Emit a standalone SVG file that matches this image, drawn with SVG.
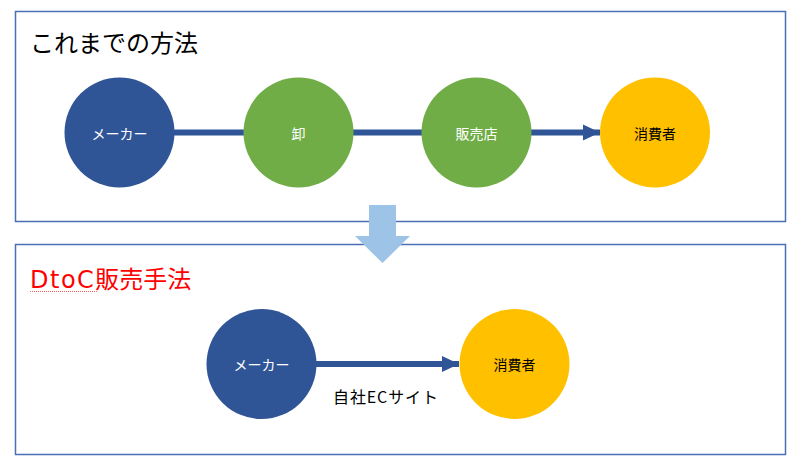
<svg xmlns="http://www.w3.org/2000/svg" width="800" height="468" viewBox="0 0 800 468">
<defs>
<style>
.frame{fill:#fff;stroke:#4a6fb5;stroke-width:1.5}
.title{font-family:"Noto Sans CJK JP","Noto Sans",sans-serif;font-size:24px}
.lbl{font-family:"Noto Sans CJK JP","Noto Sans",sans-serif;font-size:14px;text-anchor:middle;dominant-baseline:central}
.w{fill:#fff}
.k{fill:#000}
.blue{fill:#2F5597}
.green{fill:#70AD47}
.yellow{fill:#FFC000}
.conn{stroke:#2F5597;stroke-width:6;fill:none}
</style>
<marker id="ah" markerUnits="userSpaceOnUse" markerWidth="18" markerHeight="18" refX="17" refY="9" orient="auto">
<path d="M0,1 L17,9 L0,17 Z" fill="#2F5597"/>
</marker>
</defs>
<rect width="800" height="468" fill="#fff"/>
<g id="frame-top"><rect class="frame" x="15.5" y="11.5" width="770" height="210"/>
<text class="title" x="30" y="52" fill="#000">これまでの方法</text></g>
<g id="frame-bottom"><rect class="frame" x="15.5" y="244.5" width="770" height="210"/>
<text class="title" x="30" y="288" fill="#ff0000"><tspan font-family="'DejaVu Sans',sans-serif" letter-spacing="1.5">DtoC</tspan>販売手法</text>
<line x1="30" y1="291.5" x2="97" y2="291.5" stroke="#ff6060" stroke-width="1" stroke-dasharray="1,1"/></g>
<g id="down-arrow"><path d="M369,205 H396 V236 H410 L382.5,263 L355,236 H369 Z" fill="#9DC3E6"/></g>
<g id="connectors">
<line class="conn" x1="172" y1="132.5" x2="246" y2="132.5"/>
<line class="conn" x1="351" y1="132.5" x2="424" y2="132.5"/>
<line class="conn" x1="529" y1="132.5" x2="600" y2="132.5" marker-end="url(#ah)"/>
<line class="conn" x1="314" y1="364" x2="459" y2="364" marker-end="url(#ah)"/>
<text x="333" y="403" font-family="'Noto Sans CJK JP','Noto Sans',sans-serif" font-size="16" fill="#000" textLength="105" lengthAdjust="spacing">自社ECサイト</text>
</g>
<g id="n-maker1"><circle class="blue" cx="119.5" cy="132.5" r="55"/><text class="lbl w" x="119.5" y="132.5">メーカー</text></g>
<g id="n-oroshi"><circle class="green" cx="298.5" cy="132.5" r="55"/><text class="lbl w" x="298.5" y="132.5">卸</text></g>
<g id="n-shop"><circle class="green" cx="476.5" cy="132.5" r="55"/><text class="lbl w" x="476.5" y="132.5">販売店</text></g>
<g id="n-consumer1"><circle class="yellow" cx="655" cy="132.5" r="55"/><text class="lbl k" x="655" y="132.5">消費者</text></g>
<g id="n-maker2"><circle class="blue" cx="261.5" cy="364" r="55"/><text class="lbl w" x="261.5" y="364">メーカー</text></g>
<g id="n-consumer2"><circle class="yellow" cx="514.5" cy="364" r="55"/><text class="lbl k" x="514.5" y="364">消費者</text></g>
</svg>
